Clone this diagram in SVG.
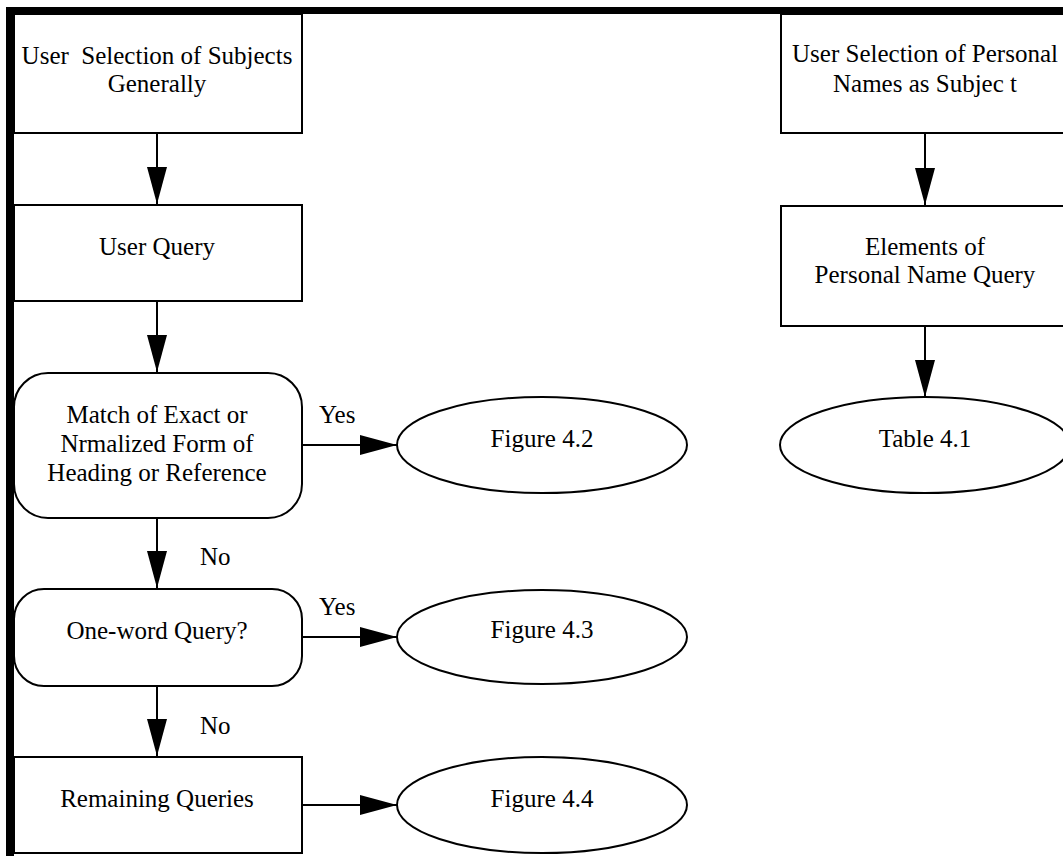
<svg xmlns="http://www.w3.org/2000/svg" width="1063" height="856" viewBox="0 0 1063 856">
<style>
.box{fill:#fff;stroke:#000;stroke-width:2}
.t{font-family:"Liberation Serif","Times New Roman",serif;font-size:25px;fill:#000;text-anchor:middle}
.l{font-family:"Liberation Serif","Times New Roman",serif;font-size:25px;fill:#000}
.c{stroke:#000;stroke-width:2;fill:none}
</style>
<defs>
<marker id="ah" viewBox="0 0 37 20" refX="37" refY="10" markerWidth="37" markerHeight="20" markerUnits="userSpaceOnUse" orient="auto">
<path d="M0,0 L37,10 L0,20 z" fill="#000"/>
</marker>
</defs>
<rect width="1063" height="856" fill="#fff"/>
<g id="frame">
<rect x="6" y="7" width="1057" height="7" fill="#000"/>
<rect x="6" y="7" width="8" height="849" fill="#000"/>
</g>
<g id="n1">
<rect class="box" x="14" y="14" width="288" height="119"/>
<text class="t" x="157" y="64" xml:space="preserve">User  Selection of Subjects</text>
<text class="t" x="157" y="92">Generally</text>
</g>
<g id="n2">
<rect class="box" x="14" y="205" width="288" height="96"/>
<text class="t" x="157" y="255">User Query</text>
</g>
<g id="n3">
<rect class="box" x="14" y="373" width="288" height="145" rx="34" ry="34"/>
<text class="t" x="157" y="423">Match of Exact or</text>
<text class="t" x="157" y="452">Nrmalized Form of</text>
<text class="t" x="157" y="481">Heading or Reference</text>
</g>
<g id="n4">
<rect class="box" x="14" y="589" width="288" height="97" rx="30" ry="30"/>
<text class="t" x="157" y="639">One-word Query?</text>
</g>
<g id="n5">
<rect class="box" x="14" y="757" width="288" height="96"/>
<text class="t" x="157" y="807">Remaining Queries</text>
</g>
<g id="f42">
<ellipse class="box" cx="542" cy="445" rx="145" ry="48"/>
<text class="t" x="542" y="447">Figure 4.2</text>
</g>
<g id="f43">
<ellipse class="box" cx="542" cy="637" rx="145" ry="47"/>
<text class="t" x="542" y="638">Figure 4.3</text>
</g>
<g id="f44">
<ellipse class="box" cx="542" cy="805" rx="145" ry="48"/>
<text class="t" x="542" y="807">Figure 4.4</text>
</g>
<g id="r1">
<rect class="box" x="781" y="14" width="300" height="119"/>
<text class="t" x="925" y="62">User Selection of Personal</text>
<text class="t" x="925" y="92">Names as Subjec t</text>
</g>
<g id="r2">
<rect class="box" x="781" y="206" width="300" height="120"/>
<text class="t" x="925" y="255">Elements of</text>
<text class="t" x="925" y="283">Personal Name Query</text>
</g>
<g id="t41">
<ellipse class="box" cx="925" cy="445" rx="145" ry="48"/>
<text class="t" x="925" y="447">Table 4.1</text>
</g>
<g id="connectors">
<line class="c" x1="157" y1="133" x2="157" y2="204" marker-end="url(#ah)"/>
<line class="c" x1="157" y1="301" x2="157" y2="372" marker-end="url(#ah)"/>
<line class="c" x1="157" y1="518" x2="157" y2="588" marker-end="url(#ah)"/>
<line class="c" x1="157" y1="686" x2="157" y2="756" marker-end="url(#ah)"/>
<line class="c" x1="302" y1="445" x2="397" y2="445" marker-end="url(#ah)"/>
<line class="c" x1="302" y1="637" x2="397" y2="637" marker-end="url(#ah)"/>
<line class="c" x1="302" y1="805" x2="397" y2="805" marker-end="url(#ah)"/>
<line class="c" x1="925" y1="133" x2="925" y2="205" marker-end="url(#ah)"/>
<line class="c" x1="925" y1="326" x2="925" y2="397" marker-end="url(#ah)"/>
<text class="l" x="319" y="423">Yes</text>
<text class="l" x="319" y="615">Yes</text>
<text class="l" x="200" y="565">No</text>
<text class="l" x="200" y="734">No</text>
</g>
</svg>
